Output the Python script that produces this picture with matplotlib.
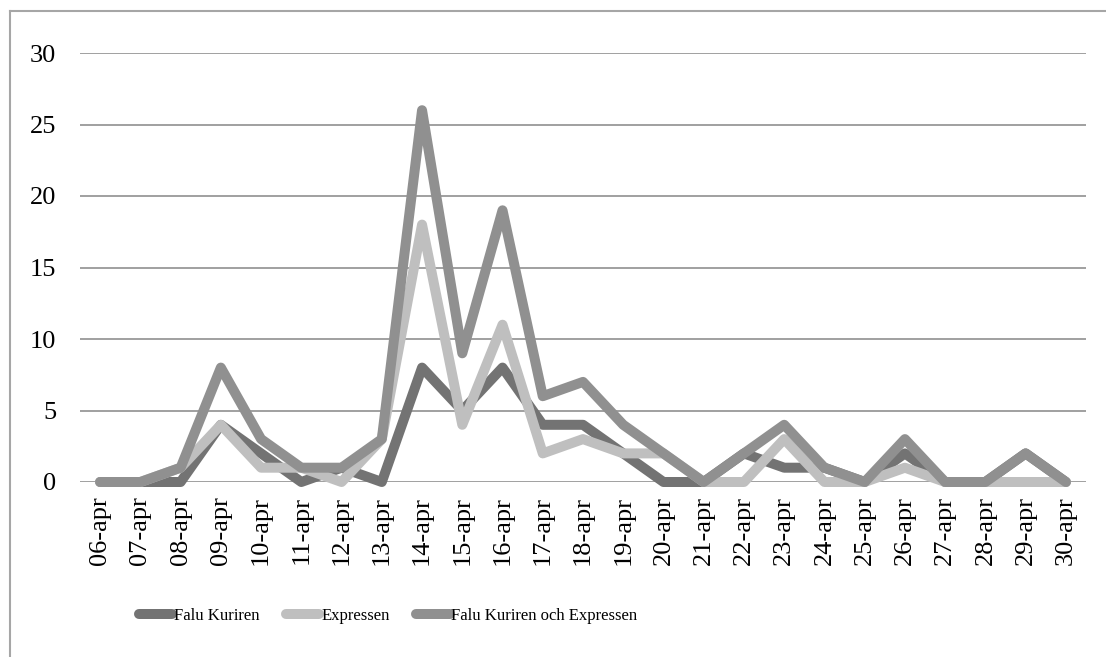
import matplotlib.pyplot as plt
from matplotlib.lines import Line2D

plt.rcParams["font.family"] = ["Liberation Serif", "DejaVu Serif"]

dates = ["06-apr", "07-apr", "08-apr", "09-apr", "10-apr", "11-apr", "12-apr",
         "13-apr", "14-apr", "15-apr", "16-apr", "17-apr", "18-apr", "19-apr",
         "20-apr", "21-apr", "22-apr", "23-apr", "24-apr", "25-apr", "26-apr",
         "27-apr", "28-apr", "29-apr", "30-apr"]
falu_kuriren = [0, 0, 0, 4, 2, 0, 1, 0, 8, 5, 8, 4, 4, 2, 0, 0, 2, 1, 1, 0, 2, 0, 0, 2, 0]
expressen = [0, 0, 1, 4, 1, 1, 0, 3, 18, 4, 11, 2, 3, 2, 2, 0, 0, 3, 0, 0, 1, 0, 0, 0, 0]
combined = [0, 0, 1, 8, 3, 1, 1, 3, 26, 9, 19, 6, 7, 4, 2, 0, 2, 4, 1, 0, 3, 0, 0, 2, 0]

series = [
    ("Falu Kuriren", falu_kuriren, "#737373"),
    ("Expressen", expressen, "#bfbfbf"),
    ("Falu Kuriren och Expressen", combined, "#909090"),
]

W, H = 1106, 657
fig = plt.figure(figsize=(W / 100, H / 100), dpi=100)
ax = fig.add_axes([80 / W, 1 - 482 / H, (1086 - 80) / W, (482 - 53) / H])

x = list(range(len(dates)))
for name, vals, col in series:
    ax.plot(x, vals, color=col, lw=7.2, label=name, clip_on=False,
            solid_capstyle="round", solid_joinstyle="round", zorder=3)

ax.set_xlim(-0.5, len(dates) - 0.5)
ax.set_ylim(0, 30)
ax.set_yticks(range(0, 31, 5))
ax.set_xticks(x)
ax.set_xticklabels(dates, rotation=90, fontsize=19)
ax.tick_params(axis="y", length=0, pad=17, labelsize=19)
ax.tick_params(axis="x", length=0, pad=10)
ax.grid(axis="y", color="#a0a0a0", lw=1.4)
ax.set_axisbelow(True)
for s in ax.spines.values():
    s.set_visible(False)

leg = fig.legend(loc="center left", bbox_to_anchor=(124 / W, 1 - 616 / H),
                 ncol=3, frameon=False, fontsize=12, handlelength=2.0,
                 handletextpad=0.1, columnspacing=1.6)
for h in leg.get_lines():
    h.set_solid_capstyle("round")

# chart area border (runs off the right and bottom edges)
fig.add_artist(Line2D([10 / W, 10 / W], [1 - 11 / H, 0], color="#a6a6a6", lw=1.5))
fig.add_artist(Line2D([10 / W, 1], [1 - 11 / H, 1 - 11 / H], color="#a6a6a6", lw=1.5))

fig.savefig("out.png", dpi=100)
